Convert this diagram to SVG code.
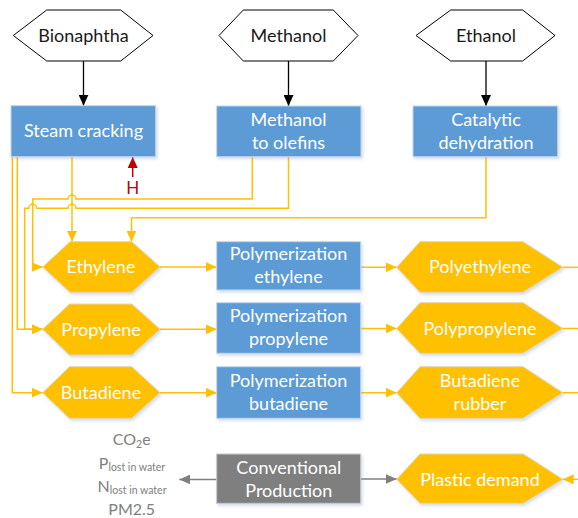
<svg xmlns="http://www.w3.org/2000/svg" width="578" height="518" viewBox="0 0 578 518">
  <style>
    .src { fill: #ffffff; stroke: #000000; stroke-width: 1; }
    .proc { fill: #5B9BD5; stroke: #C5D5EA; stroke-width: 1; filter: url(#sh); }
    .prod { fill: #FFC000; stroke: #E2D6B8; stroke-width: 1; filter: url(#sh); }
    .conv { fill: #7F7F7F; stroke: #C8C8C8; stroke-width: 1; filter: url(#sh); }
    text { font-family: Lato, "Liberation Sans", sans-serif; font-size: 18px; text-anchor: middle; }
    .dark { fill: #1A1A1A; }
    .light { fill: #FFFFFF; }
    .emis { fill: #808080; font-size: 16px; }
    .red { fill: #C00000; font-size: 17px; }
    .y { fill: none; stroke: #FFC000; stroke-width: 1.5; }
    .k { fill: none; stroke: #000000; stroke-width: 1.3; }
    .g { fill: none; stroke: #7F7F7F; stroke-width: 1.5; }
    .r { fill: none; stroke: #C00000; stroke-width: 1.5; }
  </style>
  <defs>
    <filter id="sh" x="-10%" y="-10%" width="130%" height="140%">
      <feDropShadow dx="1.5" dy="2" stdDeviation="1.5" flood-color="#7F9FC6" flood-opacity="0.35"/>
    </filter>
    <marker id="ay" viewBox="0 0 11 10" refX="11" refY="5" markerWidth="11" markerHeight="10" markerUnits="userSpaceOnUse" orient="auto">
      <path d="M0,0 L11,5 L0,10 Z" fill="#FFC000"/>
    </marker>
    <marker id="ak" viewBox="0 0 11 10" refX="11" refY="5" markerWidth="11" markerHeight="10" markerUnits="userSpaceOnUse" orient="auto">
      <path d="M0,0 L11,5 L0,10 Z" fill="#000000"/>
    </marker>
    <marker id="ag" viewBox="0 0 11 10" refX="11" refY="5" markerWidth="11" markerHeight="10" markerUnits="userSpaceOnUse" orient="auto">
      <path d="M0,0 L11,5 L0,10 Z" fill="#7F7F7F"/>
    </marker>
    <marker id="ar" viewBox="0 0 11 10" refX="11" refY="5" markerWidth="11" markerHeight="10" markerUnits="userSpaceOnUse" orient="auto">
      <path d="M0,0 L11,5 L0,10 Z" fill="#C00000"/>
    </marker>
  </defs>

  <!-- connectors -->
  <g id="connectors">
    <!-- feedstocks into conversion steps -->
    <path class="k" d="M83.5,61 V105.7" marker-end="url(#ak)"/>
    <path class="k" d="M288.5,61 V106" marker-end="url(#ak)"/>
    <path class="k" d="M486,61 V106" marker-end="url(#ak)"/>

    <!-- conversion steps into monomers -->
    <path class="y" d="M72,157 V241.7" marker-end="url(#ay)"/>
    <path class="y" d="M17.3,157 V329.3 H42.7" marker-end="url(#ay)"/>
    <path class="y" d="M12.3,157 V392.7 H42.7" marker-end="url(#ay)"/>
    <path class="y" d="M252.3,157 V199 H76 a4,4 0 0 0 -8,0 H32.7 V267 H42.7" marker-end="url(#ay)"/>
    <path class="y" d="M288.5,157 V208.3 H76 a4,4 0 0 0 -8,0 H36.7 a4,4 0 0 0 -8,0 H24.7 V329.3 H42.7" marker-end="url(#ay)"/>
    <path class="y" d="M486,157 V217.7 H131.5 V241.7" marker-end="url(#ay)"/>

    <!-- monomers into polymerization and polymers -->
    <path class="y" d="M160,267 H216.7" marker-end="url(#ay)"/>
    <path class="y" d="M360.7,267.3 H396.7" marker-end="url(#ay)"/>
    <path class="y" d="M562.7,267.3 H578"/>
    <path class="y" d="M160,329.3 H216.7" marker-end="url(#ay)"/>
    <path class="y" d="M360.7,328.5 H396.7" marker-end="url(#ay)"/>
    <path class="y" d="M562.7,328.5 H578"/>
    <path class="y" d="M160,392.7 H216.7" marker-end="url(#ay)"/>
    <path class="y" d="M360.7,392.7 H396.7" marker-end="url(#ay)"/>
    <path class="y" d="M562.7,392.7 H578"/>
    <path class="y" d="M578,479.3 H562.7" marker-end="url(#ay)"/>

    <!-- conventional route -->
    <path class="g" d="M360.7,479 H396.7" marker-end="url(#ag)"/>
    <path class="g" d="M216.7,479.5 H179.3" marker-end="url(#ag)"/>

    <!-- heat input -->
    <path class="r" d="M132.7,177 V157" marker-end="url(#ar)"/>
  </g>
  <text class="red" x="132.7" y="194">H</text>

  <!-- feedstocks -->
  <g id="bionaphtha">
    <polygon class="src" points="13.3,35.5 46.7,10 120.7,10 153,35.5 120.7,61 46.7,61"/>
    <text class="dark" x="83.5" y="41.5">Bionaphtha</text>
  </g>
  <g id="methanol">
    <polygon class="src" points="219,35.5 243.3,10 333.3,10 358,35.5 333.3,61 243.3,61"/>
    <text class="dark" x="288.5" y="41.5">Methanol</text>
  </g>
  <g id="ethanol">
    <polygon class="src" points="416,35.5 450.7,10 522.7,10 555,35.5 522.7,61 450.7,61"/>
    <text class="dark" x="486" y="41.5">Ethanol</text>
  </g>

  <!-- conversion steps -->
  <g id="steam-cracking">
    <rect class="proc" x="11" y="105.7" width="144.7" height="51"/>
    <text class="light" x="83.5" y="137">Steam cracking</text>
  </g>
  <g id="mto">
    <rect class="proc" x="216.7" y="106" width="144.3" height="50.7"/>
    <text class="light" x="288.5" y="126">Methanol</text>
    <text class="light" x="288.5" y="149">to olefins</text>
  </g>
  <g id="catalytic-dehydration">
    <rect class="proc" x="413" y="106" width="144.7" height="50.7"/>
    <text class="light" x="486" y="125.5">Catalytic</text>
    <text class="light" x="486" y="149">dehydration</text>
  </g>

  <!-- monomers -->
  <g id="ethylene">
    <polygon class="prod" points="42.7,267 70,241.7 131.7,241.7 160,267 131.7,292.3 70,292.3"/>
    <text class="light" x="101" y="273">Ethylene</text>
  </g>
  <g id="propylene">
    <polygon class="prod" points="42.7,329.3 69.5,304 131.7,304 160,329.3 131.7,355 69.5,355"/>
    <text class="light" x="101" y="336">Propylene</text>
  </g>
  <g id="butadiene">
    <polygon class="prod" points="42.7,392.7 69.5,366.7 131.7,366.7 160,392.7 131.7,418.3 69.5,418.3"/>
    <text class="light" x="101" y="399">Butadiene</text>
  </g>

  <!-- polymerization steps -->
  <g id="poly-ethylene">
    <rect class="proc" x="216.7" y="241.7" width="144" height="48.3"/>
    <text class="light" x="288.5" y="259.5">Polymerization</text>
    <text class="light" x="288.5" y="282.7">ethylene</text>
  </g>
  <g id="poly-propylene">
    <rect class="proc" x="216.7" y="302.7" width="144" height="50.6"/>
    <text class="light" x="288.5" y="322.3">Polymerization</text>
    <text class="light" x="288.5" y="345.3">propylene</text>
  </g>
  <g id="poly-butadiene">
    <rect class="proc" x="216.7" y="366.7" width="144" height="51.6"/>
    <text class="light" x="288.5" y="386.7">Polymerization</text>
    <text class="light" x="288.5" y="410">butadiene</text>
  </g>

  <!-- polymers -->
  <g id="polyethylene">
    <polygon class="prod" points="396.7,267.3 420,241.7 523,241.7 562.7,267.3 523,292.3 420,292.3"/>
    <text class="light" x="480" y="273">Polyethylene</text>
  </g>
  <g id="polypropylene">
    <polygon class="prod" points="396.7,328.5 420,302.7 523,302.7 562.7,328.5 523,353.3 420,353.3"/>
    <text class="light" x="480" y="334.5">Polypropylene</text>
  </g>
  <g id="butadiene-rubber">
    <polygon class="prod" points="396.7,392.7 420,366.7 523,366.7 562.7,392.7 523,418.3 420,418.3"/>
    <text class="light" x="480" y="386.7">Butadiene</text>
    <text class="light" x="480" y="410">rubber</text>
  </g>

  <!-- demand side -->
  <g id="conventional-production">
    <rect class="conv" x="216.7" y="454" width="144" height="49.3"/>
    <text class="light" x="288.8" y="474">Conventional</text>
    <text class="light" x="288.8" y="497">Production</text>
  </g>
  <g id="plastic-demand">
    <polygon class="prod" points="396.7,479.3 420,454 523.3,454 562.7,479.3 523.3,503.3 420,503.3"/>
    <text class="light" x="480" y="486">Plastic demand</text>
  </g>

  <!-- emissions of the conventional route -->
  <g id="emissions">
    <text class="emis" x="131.7" y="445">CO<tspan font-size="10.5" dy="2.5">2</tspan><tspan dy="-2.5">e</tspan></text>
    <text class="emis" x="132" y="468.5">P<tspan font-size="10.5" dy="2.5">lost in water</tspan></text>
    <text class="emis" x="132" y="491.5">N<tspan font-size="10.5" dy="2.5">lost in water</tspan></text>
    <text class="emis" x="131.7" y="514.5">PM2.5</text>
  </g>
</svg>
